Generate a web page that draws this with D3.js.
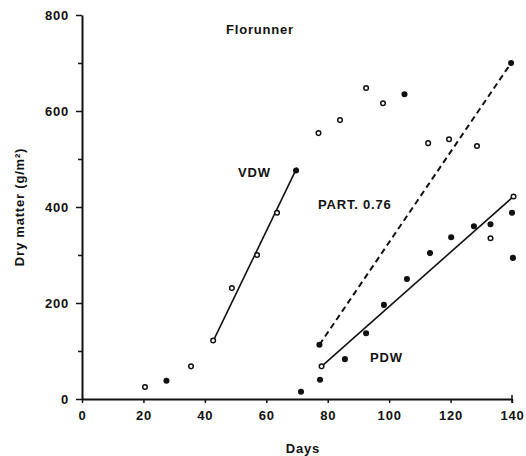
<!DOCTYPE html>
<html>
<head>
<meta charset="utf-8">
<script src="https://cdn.jsdelivr.net/npm/d3@7"></script>
<style>
  body { margin: 0; background: #fff; }
  svg text { font-family: "Liberation Sans", Arial, sans-serif; font-weight: bold; fill: #111; letter-spacing: 0.8px; }
</style>
</head>
<body>
<div id="chart"></div>
<script>
// data (days, g/m2)
const xTicks = [0, 20, 40, 60, 80, 100, 120, 140];
const yTicks = [0, 200, 400, 600, 800];
const yMinorTicks = [100, 300, 500, 700];

// early points before the VDW fit
const earlyDays = [20.5, 27.5, 35.5];
const earlyDW = [25, 38, 68];
const earlyFilled = [false, true, false];

// VDW points + fit
const vdwDays = [42.7, 48.8, 57, 63.5, 69.7];
const vdwDW = [122, 231, 300, 388, 476];
const vdwFilled = [false, false, false, false, true];
const vdwLine = [[42.5, 118], [70, 482]];

// upper points
const topDays = [77, 84, 92.5, 98, 105, 112.7, 119.5, 128.6];
const topDW = [554, 581, 648, 616, 635, 533, 541, 527];
const topFilled = [false, false, false, false, true, false, false, false];

// PART 0.76 dashed line
const partDays = [77.3, 139.7];
const partDW = [113, 700];

// PDW points + fit
const pdwDays = [71.3, 77.5, 78, 85.6, 92.5, 98.3, 105.8, 113.3, 120.2, 127.6, 133, 133, 140.3, 140, 140.5];
const pdwDW = [15, 40, 68, 83, 137, 196, 250, 304, 337, 360, 364, 335, 294, 388, 422];
const pdwFilled = [true, true, false, true, true, true, true, true, true, true, true, false, true, true, false];
const pdwLine = [[78, 68], [140.5, 422]];

const width = 526, height = 456;
const margin = { top: 15, right: 14, bottom: 57, left: 82 };

const svg = d3.select("#chart").append("svg")
  .attr("width", width)
  .attr("height", height);

const x = d3.scaleLinear().domain([0, 140]).range([margin.left, width - margin.right]);
const y = d3.scaleLinear().domain([0, 800]).range([height - margin.bottom, margin.top]);

// axes
const xAxis = svg.append("g")
  .attr("transform", `translate(0,${y(0)})`)
  .call(d3.axisBottom(x).tickValues(xTicks).tickSize(4).tickPadding(8).tickSizeOuter(0));
const yAxis = svg.append("g")
  .attr("transform", `translate(${x(0)},0)`)
  .call(d3.axisLeft(y).tickValues(yTicks).tickSize(6).tickPadding(7).tickSizeOuter(0));
svg.append("g")
  .attr("transform", `translate(${x(0)},0)`)
  .call(d3.axisLeft(y).tickValues(yMinorTicks).tickSize(4).tickFormat(""))
  .select(".domain").remove();

[xAxis, yAxis].forEach(g => {
  g.selectAll(".domain").attr("stroke", "#111").attr("stroke-width", 2);
  g.selectAll("text").style("font-size", "13px").attr("fill", "#111");
});
svg.selectAll(".tick line").attr("stroke", "#111").attr("stroke-width", 1.5);

// small end bar at 140
svg.append("line")
  .attr("x1", x(140)).attr("x2", x(140))
  .attr("y1", y(0) - 4).attr("y2", y(0) + 4)
  .attr("stroke", "#111").attr("stroke-width", 1.5);

// axis titles
svg.append("text")
  .attr("x", 303)
  .attr("y", 453)
  .attr("text-anchor", "middle")
  .style("font-size", "13px")
  .text("Days");

svg.append("text")
  .attr("transform", `translate(24,${207}) rotate(-90)`)
  .attr("text-anchor", "middle")
  .style("font-size", "13px")
  .text("Dry matter (g/m²)");

// fit lines
const line = d3.line().x(d => x(d[0])).y(d => y(d[1]));

svg.append("path")
  .datum(vdwLine)
  .attr("d", line)
  .attr("fill", "none").attr("stroke", "#111").attr("stroke-width", 1.6);

svg.append("path")
  .datum(partDays.map((d, i) => [d, partDW[i]]))
  .attr("d", line)
  .attr("fill", "none").attr("stroke", "#111").attr("stroke-width", 2)
  .attr("stroke-dasharray", "6,4");

svg.append("path")
  .datum(pdwLine)
  .attr("d", line)
  .attr("fill", "none").attr("stroke", "#111").attr("stroke-width", 1.6);

// points
function addPoints(days, vals, filled) {
  svg.append("g")
    .selectAll("circle")
    .data(days.map((d, i) => ({ d, v: vals[i], f: filled[i] })))
    .join("circle")
    .attr("cx", p => x(p.d))
    .attr("cy", p => y(p.v))
    .attr("r", 2.3)
    .attr("fill", p => p.f ? "#111" : "#fff")
    .attr("stroke", "#111")
    .attr("stroke-width", 1.5);
}
addPoints(earlyDays, earlyDW, earlyFilled);
addPoints(vdwDays, vdwDW, vdwFilled);
addPoints(topDays, topDW, topFilled);
addPoints(partDays, partDW, [true, true]);
addPoints(pdwDays, pdwDW, pdwFilled);

// labels
const labels = [
  { t: "Florunner", x: 226, y: 34 },
  { t: "VDW", x: 238, y: 177 },
  { t: "PART. 0.76", x: 318, y: 209 },
  { t: "PDW", x: 370, y: 362 }
];
svg.selectAll(".lab")
  .data(labels)
  .join("text")
  .attr("class", "lab")
  .attr("x", d => d.x)
  .attr("y", d => d.y)
  .style("font-size", "13px")
  .text(d => d.t);
</script>
</body>
</html>
